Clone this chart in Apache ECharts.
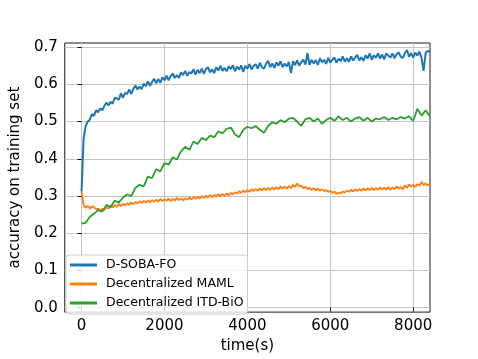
<!DOCTYPE html>
<html>
<head>
<meta charset="utf-8">
<script src="https://cdn.jsdelivr.net/npm/echarts@6/dist/echarts.min.js"></script>
<style>
html,body{margin:0;padding:0;background:#fff;}
#chart{width:478px;height:359px;}
</style>
</head>
<body>
<div id="chart"></div>
<script>
// sampling step (seconds) of each logged series
const fineStep = 50;
const coarseStep = 100;

const seriesNames = ['D-SOBA-FO', 'Decentralized MAML', 'Decentralized ITD-BiO'];

// D-SOBA-FO accuracy, every 50 s from 0 to 8400
const dsobaAcc = [
  0.312,0.455,0.488,0.500,0.505,0.520,0.515,0.530,0.525,0.535,
  0.530,0.542,0.551,0.543,0.553,0.548,0.564,0.562,0.559,0.576,
  0.564,0.577,0.574,0.586,0.574,0.588,0.597,0.586,0.594,0.587,
  0.602,0.595,0.608,0.596,0.606,0.615,0.603,0.614,0.604,0.619,
  0.611,0.623,0.611,0.622,0.629,0.617,0.625,0.617,0.632,0.625,
  0.636,0.623,0.633,0.629,0.641,0.626,0.639,0.630,0.642,0.628,
  0.641,0.646,0.632,0.640,0.630,0.646,0.637,0.650,0.636,0.644,
  0.635,0.648,0.641,0.651,0.635,0.648,0.639,0.651,0.633,0.650,
  0.642,0.654,0.640,0.650,0.654,0.642,0.658,0.646,0.642,0.655,
  0.663,0.646,0.656,0.644,0.659,0.650,0.662,0.646,0.656,0.648,
  0.660,0.630,0.662,0.652,0.664,0.650,0.660,0.666,0.653,0.684,
  0.652,0.666,0.656,0.665,0.652,0.670,0.659,0.666,0.655,0.671,
  0.658,0.666,0.672,0.658,0.669,0.662,0.675,0.661,0.670,0.660,
  0.675,0.664,0.672,0.679,0.664,0.673,0.663,0.678,0.669,0.683,
  0.666,0.678,0.671,0.683,0.669,0.680,0.667,0.683,0.677,0.672,
  0.683,0.670,0.681,0.686,0.674,0.671,0.684,0.692,0.674,0.684,
  0.672,0.685,0.677,0.688,0.671,0.636,0.684,0.690,0.687
];

// Decentralized MAML accuracy, every 50 s from 0 to 8400
const mamlAcc = [
  0.312,0.276,0.268,0.274,0.266,0.272,0.270,0.264,0.266,0.260,
  0.266,0.262,0.270,0.266,0.274,0.269,0.276,0.271,0.278,0.273,
  0.279,0.275,0.281,0.276,0.283,0.278,0.284,0.280,0.286,0.281,
  0.287,0.282,0.288,0.283,0.289,0.284,0.290,0.285,0.292,0.286,
  0.291,0.287,0.293,0.286,0.292,0.288,0.295,0.289,0.293,0.288,
  0.294,0.290,0.296,0.291,0.297,0.292,0.298,0.293,0.300,0.294,
  0.301,0.296,0.302,0.297,0.303,0.298,0.305,0.299,0.306,0.300,
  0.307,0.302,0.308,0.304,0.310,0.306,0.313,0.308,0.315,0.310,
  0.316,0.311,0.318,0.313,0.319,0.314,0.320,0.315,0.321,0.316,
  0.322,0.316,0.323,0.317,0.324,0.318,0.326,0.320,0.325,0.319,
  0.327,0.321,0.330,0.324,0.334,0.326,0.328,0.320,0.325,0.318,
  0.322,0.316,0.321,0.315,0.320,0.314,0.318,0.313,0.316,0.311,
  0.314,0.308,0.312,0.305,0.309,0.307,0.312,0.309,0.315,0.311,
  0.317,0.312,0.318,0.313,0.319,0.314,0.320,0.315,0.321,0.316,
  0.322,0.316,0.321,0.317,0.323,0.318,0.322,0.317,0.324,0.316,
  0.323,0.318,0.326,0.320,0.324,0.318,0.328,0.322,0.331,0.325,
  0.330,0.324,0.332,0.327,0.338,0.329,0.334,0.328,0.332
];

// Decentralized ITD-BiO accuracy, every 100 s from 0 to 8400
const itdAcc = [
  0.226,0.228,0.244,0.252,0.262,0.258,0.276,0.270,0.288,0.282,
  0.296,0.304,0.300,0.322,0.330,0.326,0.352,0.348,0.372,0.366,
  0.388,0.384,0.404,0.398,0.420,0.432,0.424,0.446,0.440,0.456,
  0.450,0.462,0.458,0.474,0.468,0.480,0.484,0.466,0.458,0.478,
  0.486,0.482,0.488,0.478,0.470,0.488,0.498,0.494,0.504,0.498,
  0.508,0.510,0.500,0.488,0.506,0.510,0.500,0.508,0.494,0.504,
  0.510,0.502,0.514,0.504,0.510,0.500,0.508,0.512,0.502,0.510,
  0.500,0.508,0.506,0.512,0.504,0.510,0.506,0.512,0.508,0.514,
  0.502,0.534,0.516,0.530,0.514
];

const xTicks = [0, 2000, 4000, 6000, 8000];
const yTicks = [0.0, 0.1, 0.2, 0.3, 0.4, 0.5, 0.6, 0.7];

function toPairs(values, step) {
  return values.map((v, i) => [i * step, v]);
}

const FONT = 'DejaVu Sans';
const chart = echarts.init(document.getElementById('chart'), null, {renderer: 'canvas'});

const option = {
  animation: false,
  backgroundColor: '#ffffff',
  grid: {
    left: 60, right: 48, top: 43, bottom: 39.5,
    show: true, borderColor: '#1a1a1a', borderWidth: 1, backgroundColor: 'transparent'
  },
  xAxis: {
    type: 'value',
    min: -405, max: 8405,
    name: 'time(s)',
    nameLocation: 'middle',
    nameGap: 26,
    nameTextStyle: {fontFamily: FONT, fontSize: 15, color: '#000'},
    axisLine: {show: false},
    axisTick: {show: true, inside: false, length: 4, customValues: xTicks, lineStyle: {color: '#000', width: 1}},
    axisLabel: {show: true, margin: 7, customValues: xTicks, fontFamily: FONT, fontSize: 15, color: '#000',
      formatter: v => String(v)},
    splitLine: {show: true, lineStyle: {color: '#c4c4c4', width: 1}}
  },
  yAxis: {
    type: 'value',
    min: -0.012, max: 0.711,
    name: 'accuracy on training set',
    nameLocation: 'middle',
    nameGap: 35,
    nameTextStyle: {fontFamily: FONT, fontSize: 15, color: '#000'},
    axisLine: {show: false},
    axisTick: {show: true, inside: false, length: 4, customValues: yTicks, lineStyle: {color: '#000', width: 1}},
    axisLabel: {show: true, margin: 7, customValues: yTicks, fontFamily: FONT, fontSize: 15, color: '#000',
      formatter: v => Number(v).toFixed(1)},
    splitLine: {show: true, lineStyle: {color: '#c4c4c4', width: 1}}
  },
  legend: {
    orient: 'vertical',
    left: 66, top: 255,
    data: seriesNames,
    icon: 'rect',
    itemWidth: 27, itemHeight: 3,
    itemGap: 5,
    padding: [3, 4, 4, 4],
    backgroundColor: 'rgba(255,255,255,0.8)',
    borderColor: '#cccccc', borderWidth: 1, borderRadius: 3,
    textStyle: {fontFamily: FONT, fontSize: 12.5, color: '#000', lineHeight: 14, padding: [0, 0, 0, 4]}
  },
  series: [
    {name: seriesNames[0], type: 'line', data: toPairs(dsobaAcc, fineStep), showSymbol: false, symbol: 'none',
      lineStyle: {color: '#1f77b4', width: 2}, itemStyle: {color: '#1f77b4'}},
    {name: seriesNames[1], type: 'line', data: toPairs(mamlAcc, fineStep), showSymbol: false, symbol: 'none',
      lineStyle: {color: '#ff7f0e', width: 1.8}, itemStyle: {color: '#ff7f0e'}},
    {name: seriesNames[2], type: 'line', data: toPairs(itdAcc, coarseStep), showSymbol: false, symbol: 'none',
      lineStyle: {color: '#2ca02c', width: 1.8}, itemStyle: {color: '#2ca02c'}}
  ]
};
chart.setOption(option);
</script>
</body>
</html>
